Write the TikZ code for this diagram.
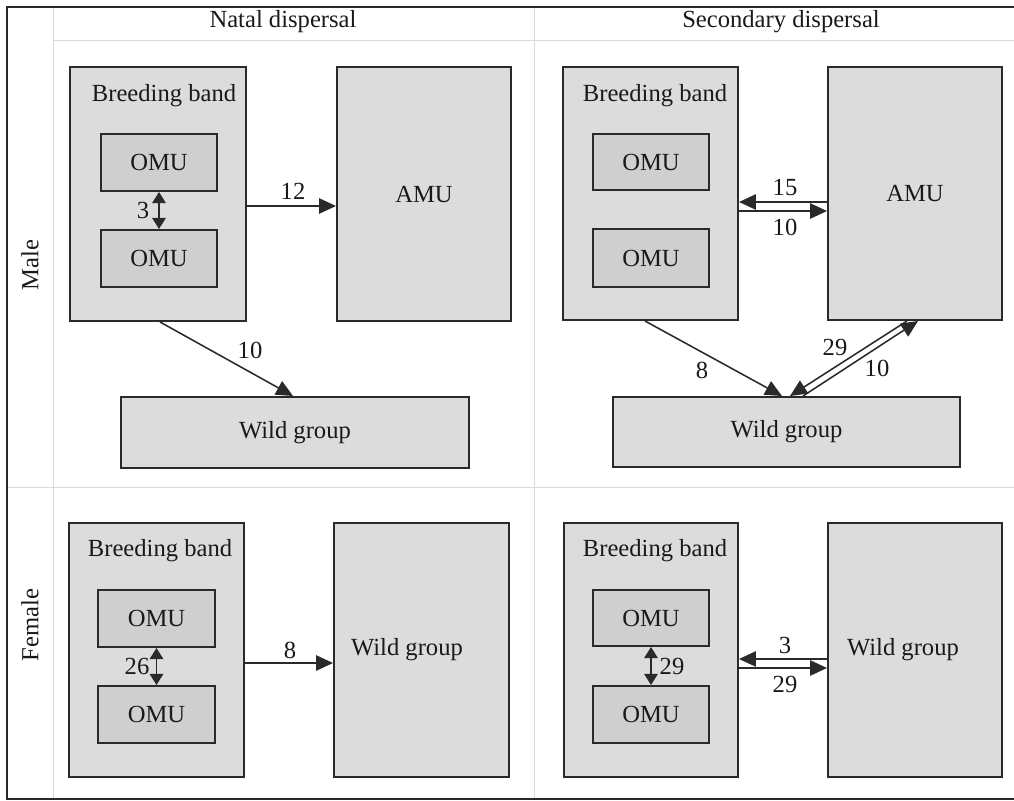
\documentclass[tikz,border=0pt]{standalone}
\usepackage{fontspec}
\setmainfont{Liberation Serif}
\definecolor{DGBorder}{HTML}{2A2A2A}
\definecolor{DGBand}{HTML}{DCDCDC}
\definecolor{DGUnit}{HTML}{CFCFCF}
\definecolor{DGGrid}{HTML}{DADADA}
\usetikzlibrary{positioning,arrows.meta,fit}

\tikzset{
  bandbox/.style={draw=DGBorder, line width=1.4pt, fill=DGBand, inner sep=0pt},
  omubox/.style={draw=DGBorder, line width=1.4pt, fill=DGUnit, inner sep=0pt},
  flow/.style={-{Triangle[length=0.42cm,width=0.38cm]}, line width=1.1pt, DGBorder},
  swap/.style={{Triangle[length=0.28cm,width=0.34cm]}-{Triangle[length=0.28cm,width=0.34cm]}, line width=1.1pt, DGBorder},
  lbl/.style={inner sep=0pt, text=black!90},
  grid/.style={DGGrid, line width=0.7pt},
  frame/.style={DGBorder, line width=1.4pt},
}

\begin{document}
\begin{tikzpicture}[x=0.025cm, y=-0.025cm, font=\fontsize{17.5}{20}\selectfont]
  \useasboundingbox (0,0) rectangle (1014,801);
  % table lines
  \draw[grid] (53,7) -- (53,799);
  \draw[grid] (534,7) -- (534,799);
  \draw[grid] (53,40) -- (1014,40);
  \draw[grid] (7,487) -- (1014,487);
  \draw[frame] (1016,7) -- (7,7) -- (7,799) -- (1016,799);
  \node[lbl] (hNatal) at (283,22) {Natal dispersal};
  \node[lbl] (hSecond) at (781,22) {Secondary dispersal};
  \node[lbl, rotate=90] (hMale) at (30,265) {Male};
  \node[lbl, rotate=90] (hFemale) at (30,625) {Female};

  % male, natal
  \node[bandbox, fit={(70,67) (246,321)}] (bbMN) {};
  \node[lbl] (bbMNt) at (164,96) {Breeding band};
  \node[omubox, fit={(101,134) (217,191)}, label={[lbl]center:OMU}] (omuMNa) {};
  \node[omubox, fit={(101,230) (217,287)}, label={[lbl]center:OMU}] (omuMNb) {};
  \node[bandbox, fit={(337,67) (511,321)}, label={[lbl]center:AMU}] (amuMN) {};
  \node[bandbox, fit={(121,397) (469,468)}, label={[lbl]center:Wild group}] (wildMN) {};
  \draw[swap] (omuMNa) -- (omuMNb);
  \node[lbl] at (143,210) {3};
  \draw[flow] (bbMN.east |- 0,206) -- (amuMN.west |- 0,206);
  \node[lbl] at (293,191) {12};
  \draw[flow] (bbMN.south -| 160,0) -- (wildMN.north -| 293,0);
  \node[lbl] at (250,350) {10};

  % male, secondary
  \node[bandbox, fit={(563,67) (738,320)}] (bbMS) {};
  \node[lbl] (bbMSt) at (655,96) {Breeding band};
  \node[omubox, fit={(593,134) (709,190)}, label={[lbl]center:OMU}] (omuMSa) {};
  \node[omubox, fit={(593,229) (709,287)}, label={[lbl]center:OMU}] (omuMSb) {};
  \node[bandbox, fit={(828,67) (1002,320)}, label={[lbl]center:AMU}] (amuMS) {};
  \node[bandbox, fit={(613,397) (960,467)}, label={[lbl]center:Wild group}] (wildMS) {};
  \draw[flow] (amuMS.west |- 0,202) -- (bbMS.east |- 0,202);
  \node[lbl] at (785,187) {15};
  \draw[flow] (bbMS.east |- 0,211) -- (amuMS.west |- 0,211);
  \node[lbl] at (785,227) {10};
  \draw[flow] (bbMS.south -| 645,0) -- (wildMS.north -| 782,0);
  \node[lbl] at (702,370) {8};
  \draw[flow] (amuMS.south -| 907,0) -- (wildMS.north -| 790,0);
  \node[lbl] at (835,347) {29};
  \draw[flow] (wildMS.north -| 803,0) -- (amuMS.south -| 918,0);
  \node[lbl] at (877,368) {10};

  % female, natal
  \node[bandbox, fit={(69,523) (244,777)}] (bbFN) {};
  \node[lbl] (bbFNt) at (160,551) {Breeding band};
  \node[omubox, fit={(98,590) (215,647)}, label={[lbl]center:OMU}] (omuFNa) {};
  \node[omubox, fit={(98,686) (215,743)}, label={[lbl]center:OMU}] (omuFNb) {};
  \node[bandbox, fit={(334,523) (509,777)}] (wildFN) {};
  \node[lbl] (wildFNt) at (407,650) {Wild group};
  \draw[swap] (omuFNa) -- (omuFNb);
  \node[lbl] at (137,666) {26};
  \draw[flow] (bbFN.east |- 0,663) -- (wildFN.west |- 0,663);
  \node[lbl] at (290,650) {8};

  % female, secondary
  \node[bandbox, fit={(564,523) (738,777)}] (bbFS) {};
  \node[lbl] (bbFSt) at (655,551) {Breeding band};
  \node[omubox, fit={(593,590) (709,646)}, label={[lbl]center:OMU}] (omuFSa) {};
  \node[omubox, fit={(593,686) (709,743)}, label={[lbl]center:OMU}] (omuFSb) {};
  \node[bandbox, fit={(828,523) (1002,777)}] (wildFS) {};
  \node[lbl] (wildFSt) at (903,650) {Wild group};
  \draw[swap] (omuFSa) -- (omuFSb);
  \node[lbl] at (672,666) {29};
  \draw[flow] (wildFS.west |- 0,659) -- (bbFS.east |- 0,659);
  \node[lbl] at (785,645) {3};
  \draw[flow] (bbFS.east |- 0,668) -- (wildFS.west |- 0,668);
  \node[lbl] at (785,684) {29};
\end{tikzpicture}
\end{document}
